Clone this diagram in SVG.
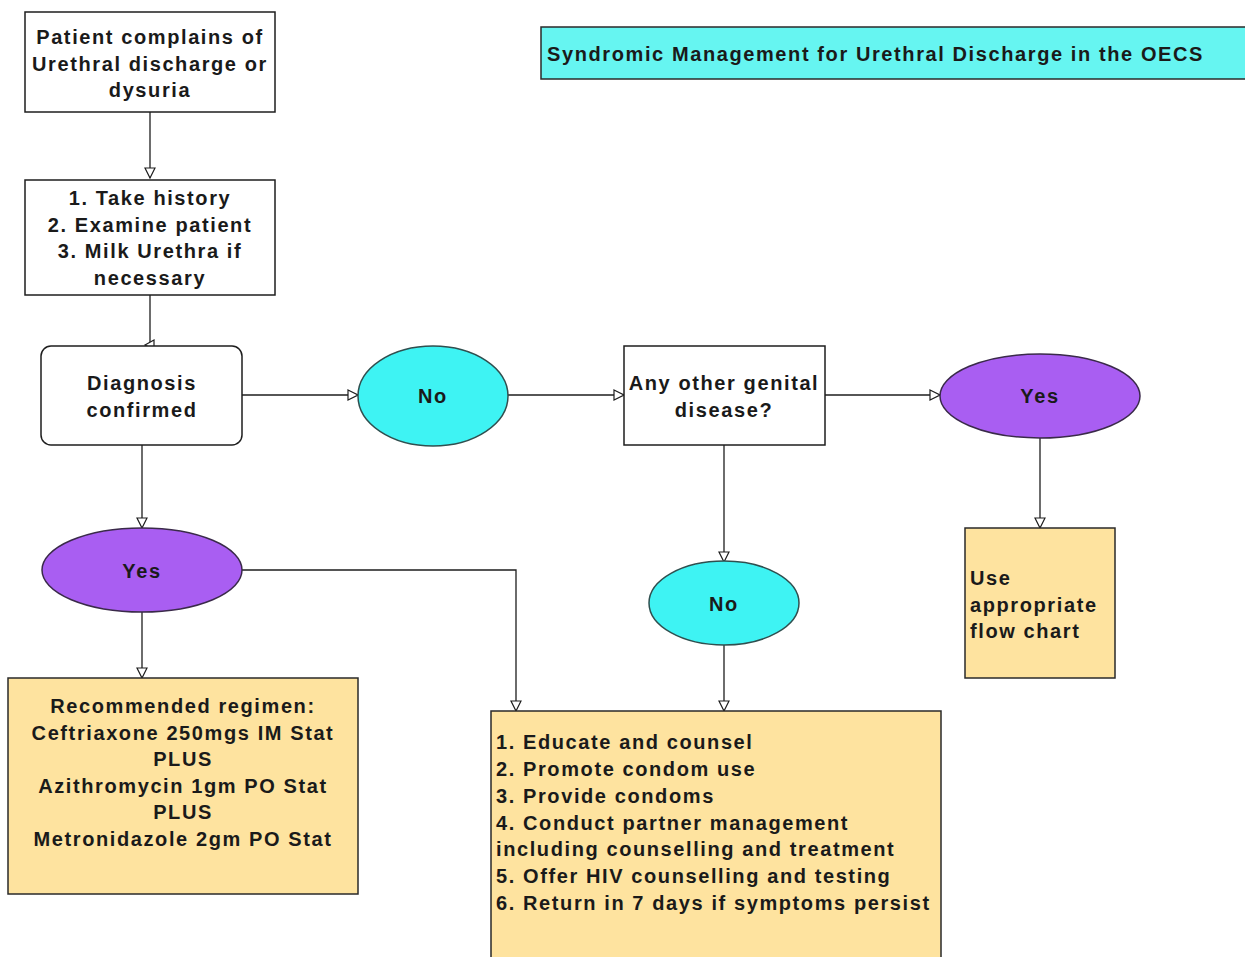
<svg xmlns="http://www.w3.org/2000/svg" width="1245" height="957" viewBox="0 0 1245 957">
  <style>
    .box { fill: #ffffff; stroke: #1e1e1e; stroke-width: 1.5; }
    .note { fill: #fee39f; stroke: #2a2a2a; stroke-width: 1.5; }
    .cyan { fill: #3ef3f3; stroke: #2f4f4f; stroke-width: 1.5; }
    .purple { fill: #a95ef2; stroke: #3a2a4a; stroke-width: 1.5; }
    .title { fill: #66f5f1; stroke: #2a2a2a; stroke-width: 1.5; }
    text { font-family: "Liberation Sans", Arial, sans-serif; font-weight: bold; font-size: 20px; fill: #1a1a1a; letter-spacing: 1.6px; }
    .c { text-anchor: middle; }
    .edge { fill: none; stroke: #1e1e1e; stroke-width: 1.3; }
  </style>
  <defs>
    <marker id="open" viewBox="0 0 12 12" refX="11" refY="6" markerWidth="12" markerHeight="12" markerUnits="userSpaceOnUse" orient="auto">
      <path d="M1,1 L11,6 L1,11 Z" fill="#ffffff" stroke="#1e1e1e" stroke-width="1.2"/>
    </marker>
  </defs>

  <rect width="1245" height="957" fill="#ffffff"/>

  <!-- connectors -->
  <g id="connectors">
    <path class="edge" d="M150,112 V178" marker-end="url(#open)"/>
    <path class="edge" d="M150,295 V346"/>
    <path d="M154,340 L145,345 L154,350 Z" fill="#ffffff" stroke="#1e1e1e" stroke-width="1.2"/>
    <path class="edge" d="M242,395 H358" marker-end="url(#open)"/>
    <path class="edge" d="M508,395 H624" marker-end="url(#open)"/>
    <path class="edge" d="M825,395 H940" marker-end="url(#open)"/>
    <path class="edge" d="M1040,438 V528" marker-end="url(#open)"/>
    <path class="edge" d="M724,445 V562" marker-end="url(#open)"/>
    <path class="edge" d="M724,645 V711" marker-end="url(#open)"/>
    <path class="edge" d="M142,445 V528" marker-end="url(#open)"/>
    <path class="edge" d="M142,612 V678" marker-end="url(#open)"/>
    <path class="edge" d="M242,570 H516 V711" marker-end="url(#open)"/>
  </g>

  <g id="title">
    <rect class="title" x="541" y="27" width="710" height="52"/>
    <text x="547" y="61" style="font-size:20px;letter-spacing:1.6px">Syndromic Management for Urethral Discharge in the OECS</text>
  </g>

  <g id="complaint">
    <rect class="box" x="25" y="12" width="250" height="100"/>
    <text class="c" x="150" y="44">Patient complains of</text>
    <text class="c" x="150" y="71">Urethral discharge or</text>
    <text class="c" x="150" y="97">dysuria</text>
  </g>

  <g id="history">
    <rect class="box" x="25" y="180" width="250" height="115"/>
    <text class="c" x="150" y="205">1. Take history</text>
    <text class="c" x="150" y="232">2. Examine patient</text>
    <text class="c" x="150" y="258">3. Milk Urethra if</text>
    <text class="c" x="150" y="285">necessary</text>
  </g>

  <g id="diagnosis">
    <rect class="box" x="41" y="346" width="201" height="99" rx="10" ry="10"/>
    <text class="c" x="142" y="390">Diagnosis</text>
    <text class="c" x="142" y="417">confirmed</text>
  </g>

  <g id="no1">
    <ellipse class="cyan" cx="433" cy="396" rx="75" ry="50"/>
    <text class="c" x="433" y="403">No</text>
  </g>

  <g id="other-disease">
    <rect class="box" x="624" y="346" width="201" height="99"/>
    <text class="c" x="724" y="390">Any other genital</text>
    <text class="c" x="724" y="417">disease?</text>
  </g>

  <g id="yes2">
    <ellipse class="purple" cx="1040" cy="396" rx="100" ry="42"/>
    <text class="c" x="1040" y="403">Yes</text>
  </g>

  <g id="flowchart">
    <rect class="note" x="965" y="528" width="150" height="150"/>
    <text x="970" y="585">Use</text>
    <text x="970" y="612">appropriate</text>
    <text x="970" y="638">flow chart</text>
  </g>

  <g id="no2">
    <ellipse class="cyan" cx="724" cy="603" rx="75" ry="42"/>
    <text class="c" x="724" y="611">No</text>
  </g>

  <g id="yes1">
    <ellipse class="purple" cx="142" cy="570" rx="100" ry="42"/>
    <text class="c" x="142" y="578">Yes</text>
  </g>

  <g id="regimen">
    <rect class="note" x="8" y="678" width="350" height="216"/>
    <text class="c" x="183" y="713">Recommended regimen:</text>
    <text class="c" x="183" y="740">Ceftriaxone 250mgs IM Stat</text>
    <text class="c" x="183" y="766">PLUS</text>
    <text class="c" x="183" y="793">Azithromycin 1gm PO Stat</text>
    <text class="c" x="183" y="819">PLUS</text>
    <text class="c" x="183" y="846">Metronidazole 2gm PO Stat</text>
  </g>

  <g id="counsel">
    <rect class="note" x="491" y="711" width="450" height="260"/>
    <text x="496" y="749">1. Educate and counsel</text>
    <text x="496" y="776">2. Promote condom use</text>
    <text x="496" y="803">3. Provide condoms</text>
    <text x="496" y="830">4. Conduct partner management</text>
    <text x="496" y="856">including counselling and treatment</text>
    <text x="496" y="883">5. Offer HIV counselling and testing</text>
    <text x="496" y="910">6. Return in 7 days if symptoms persist</text>
  </g>
</svg>
